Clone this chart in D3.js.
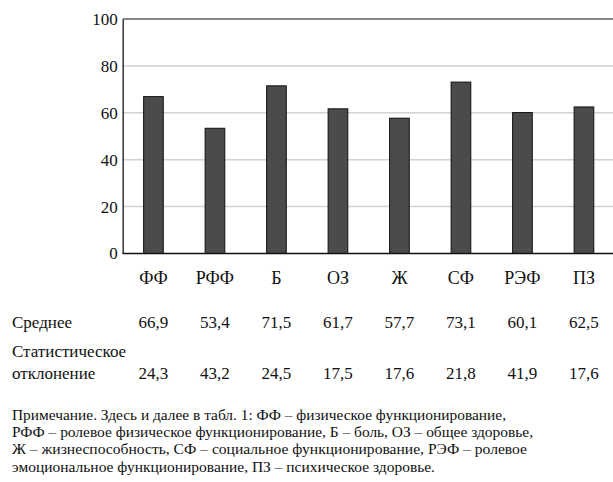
<!DOCTYPE html>
<html>
<head>
<meta charset="utf-8">
<script src="https://cdn.jsdelivr.net/npm/d3@7"></script>
</head>
<body style="margin:0;background:#fff">
<svg id="chart" width="613" height="482" style="display:block"></svg>
<script>
// Показатели качества жизни (SF-36)
const categories = ["ФФ", "РФФ", "Б", "ОЗ", "Ж", "СФ", "РЭФ", "ПЗ"];
const meanValues = [66.9, 53.4, 71.5, 61.7, 57.7, 73.1, 60.1, 62.5];
const sdValues = [24.3, 43.2, 24.5, 17.5, 17.6, 21.8, 41.9, 17.6];
const yTicks = [0, 20, 40, 60, 80, 100];
const rowLabels = ["Среднее", "Статистическое", "отклонение"];
const noteLines = [
  "Примечание. Здесь и далее в табл. 1: ФФ – физическое функционирование,",
  "РФФ – ролевое физическое функционирование, Б – боль, ОЗ – общее здоровье,",
  "Ж – жизнеспособность, СФ – социальное функционирование, РЭФ – ролевое",
  "эмоциональное функционирование, ПЗ – психическое здоровье."
];

const FONT = "Liberation Serif";
const INK = "#111";
const fmt = v => v.toFixed(1).replace(".", ",");

const svg = d3.select("#chart");
const plot = { left: 122.7, right: 614.7, top: 19, bottom: 253.5 };

const x = d3.scaleBand()
  .domain(categories)
  .range([plot.left, plot.right])
  .paddingInner(0.68)
  .paddingOuter(0.34);

const y = d3.scaleLinear()
  .domain([0, 100])
  .range([plot.bottom, plot.top]);

// grid lines
svg.append("g")
  .selectAll("line")
  .data(yTicks.filter(t => t > 0 && t < 100))
  .join("line")
  .attr("x1", plot.left).attr("x2", 613)
  .attr("y1", d => y(d)).attr("y2", d => y(d))
  .attr("stroke", "#d2d2d2")
  .attr("stroke-width", 1.5);

// top frame line
svg.append("line")
  .attr("x1", plot.left).attr("x2", 613)
  .attr("y1", y(100)).attr("y2", y(100))
  .attr("stroke", INK).attr("stroke-width", 1.2);

// bars
svg.append("g")
  .selectAll("rect")
  .data(meanValues)
  .join("rect")
  .attr("x", (d, i) => x(categories[i]))
  .attr("width", x.bandwidth())
  .attr("y", d => y(d))
  .attr("height", d => y(0) - y(d))
  .attr("fill", "#4b4b4d")
  .attr("stroke", INK)
  .attr("stroke-width", 1);

// y axis
const gy = svg.append("g")
  .attr("transform", `translate(${plot.left},0)`)
  .call(d3.axisLeft(y).tickValues(yTicks).tickSize(0).tickPadding(5));
gy.select(".domain").attr("stroke", "#333").attr("stroke-width", 1.5);
gy.selectAll("text").attr("font-size", 17);

// x axis
const gx = svg.append("g")
  .attr("transform", `translate(0,${plot.bottom})`)
  .call(d3.axisBottom(x).tickSize(0).tickPadding(17.5));
gx.select(".domain").attr("stroke", INK).attr("stroke-width", 1.5)
  .attr("d", `M${plot.left},0H613`);
gx.selectAll("text").attr("font-size", 18);

// table rows below the chart
const table = svg.append("g");
table.append("text").attr("x", 12).attr("y", 328).text(rowLabels[0]);
table.append("text").attr("x", 12).attr("y", 356.5).text(rowLabels[1]);
table.append("text").attr("x", 12).attr("y", 378.5).text(rowLabels[2]);

table.append("g").selectAll("text")
  .data(meanValues)
  .join("text")
  .attr("x", (d, i) => x(categories[i]) + x.bandwidth() / 2)
  .attr("y", 328)
  .attr("text-anchor", "middle")
  .text(fmt);

table.append("g").selectAll("text")
  .data(sdValues)
  .join("text")
  .attr("x", (d, i) => x(categories[i]) + x.bandwidth() / 2)
  .attr("y", 378.5)
  .attr("text-anchor", "middle")
  .text(fmt);
table.selectAll("text").attr("font-size", 17);

// note
const noteWidths = [494, 521, 515, 423];
svg.append("g")
  .selectAll("text")
  .data(noteLines)
  .join("text")
  .attr("x", 12)
  .attr("y", (d, i) => 419.5 + i * 17.4)
  .attr("font-size", 14.5)
  .attr("textLength", (d, i) => noteWidths[i])
  .attr("lengthAdjust", "spacingAndGlyphs")
  .text(d => d);

// one serif face and ink colour for every label
svg.selectAll("text")
  .attr("font-family", FONT)
  .attr("fill", INK);
</script>
</body>
</html>
